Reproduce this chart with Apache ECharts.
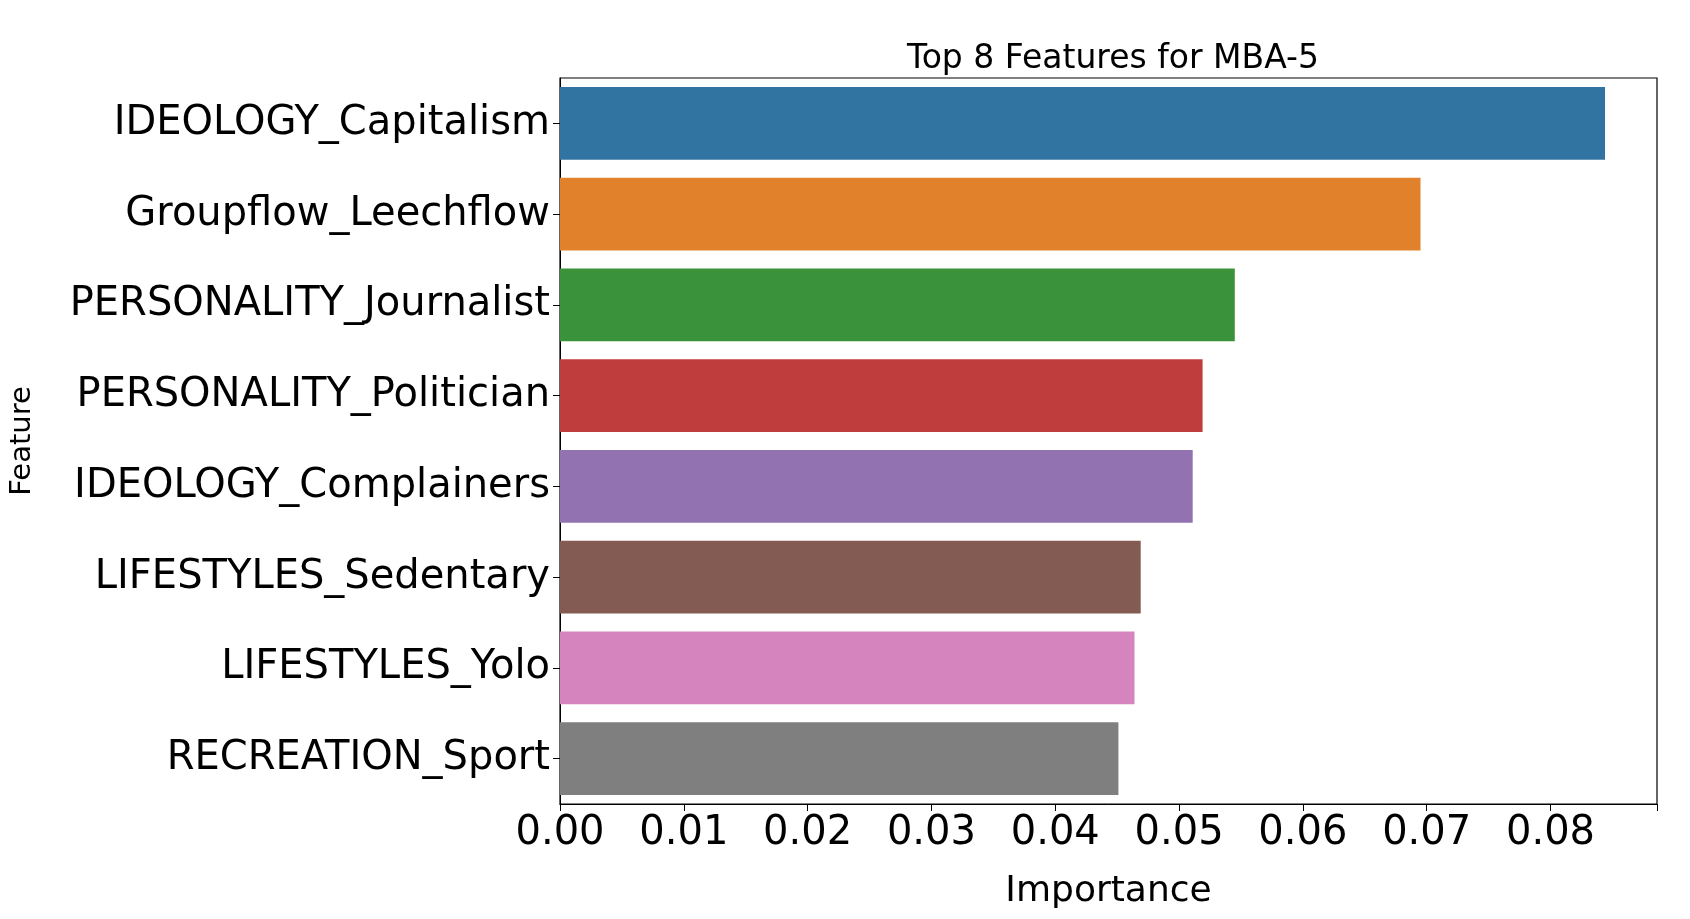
<!DOCTYPE html>
<html>
<head>
<meta charset="UTF-8">
<script src="https://cdn.jsdelivr.net/npm/echarts@6/dist/echarts.min.js"></script>
<style>html,body{margin:0;background:#fff}#chart{width:1690px;height:919px}</style>
</head>
<body>
<div id="chart"></div>
<script>
var features = ['IDEOLOGY_Capitalism', 'Groupflow_Leechflow', 'PERSONALITY_Journalist', 'PERSONALITY_Politician',
	'IDEOLOGY_Complainers', 'LIFESTYLES_Sedentary', 'LIFESTYLES_Yolo', 'RECREATION_Sport'];
var importance = [0.0844, 0.0695, 0.0545, 0.0519, 0.0511, 0.0469, 0.0464, 0.0451];
var barColors = ['#3274a1', '#e1812c', '#3a923a', '#c03d3e', '#9372b2', '#845b53', '#d684bd', '#7f7f7f'];

var chart = echarts.init(document.getElementById('chart'));
var font = 'DejaVu Sans';
chart.setOption({
	animation: false,
	title: {
		text: 'Top 8 Features for MBA-5', left: 1108, top: 38, textAlign: 'center',
		textStyle: {fontFamily: font, fontSize: 33, fontWeight: 'normal', color: '#000'}
	},
	grid: {left: 559, right: 33, top: 78, bottom: 115, show: true, borderColor: '#000', borderWidth: 1.2},
	xAxis: {
		type: 'value', min: 0, max: 0.0886, interval: 0.01,
		name: 'Importance', nameLocation: 'middle', nameGap: 70,
		nameTextStyle: {fontFamily: font, fontSize: 36, color: '#000'},
		axisLine: {show: true, lineStyle: {color: '#000'}},
		axisTick: {show: true, length: 7, lineStyle: {color: '#000'}},
		axisLabel: {fontFamily: font, fontSize: 40, color: '#000', margin: 10,
			formatter: function (v) { return v > 0.0885 ? '' : v.toFixed(2); }},
		splitLine: {show: false}
	},
	yAxis: {
		type: 'category', data: features, inverse: true,
		name: 'Feature', nameLocation: 'middle', nameGap: 523, nameRotate: 90,
		nameTextStyle: {fontFamily: font, fontSize: 29, color: '#000'},
		axisLine: {show: true, lineStyle: {color: '#000'}},
		axisTick: {show: true, alignWithLabel: true, length: 7, lineStyle: {color: '#000'}},
		axisLabel: {fontFamily: font, fontSize: 40, color: '#000', margin: 10}
	},
	series: [{
		type: 'bar', barWidth: '80%',
		data: importance.map(function (v, i) { return {value: v, itemStyle: {color: barColors[i]}}; })
	}]
});
</script>
</body>
</html>
